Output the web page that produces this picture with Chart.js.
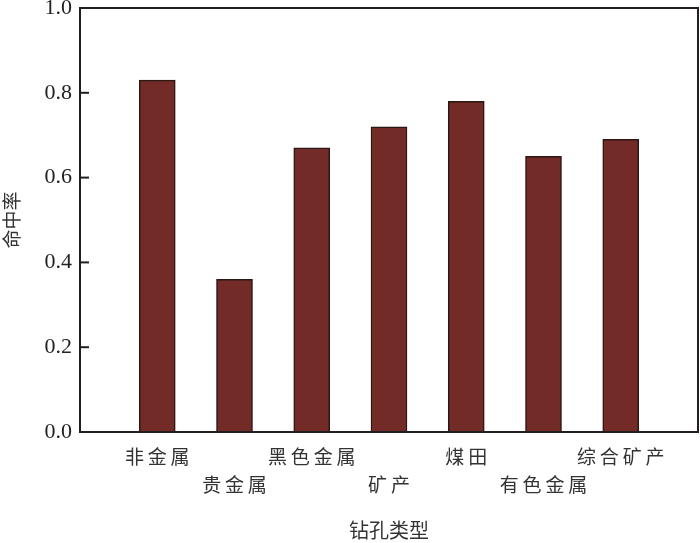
<!DOCTYPE html>
<html>
<head>
<meta charset="utf-8">
<script src="https://cdn.jsdelivr.net/npm/chart.js@4/dist/chart.umd.min.js"></script>
<style>
	body { margin: 0; background: #fff; }
	#wrap { width: 700px; height: 543px; }
</style>
</head>
<body>
<div id="wrap"><canvas id="barChart"></canvas></div>
<script>
const categories = ['非金属', '贵金属', '黑色金属', '矿产', '煤田', '有色金属', '综合矿产'];
const hitRates = [0.83, 0.36, 0.67, 0.72, 0.78, 0.65, 0.69];
const labelRows = [0, 1, 0, 1, 0, 1, 0];
const yMin = 0;
const yMax = 1.0;
const yStep = 0.2;

const serif = "'Liberation Serif', 'Noto Sans CJK SC', serif";
const cjk = "'Noto Sans CJK SC', sans-serif";

// spread the characters a little like the original typesetting
const spaced = (s) => s.split('').join('\u2009');

// empty slot on each side so bars sit at 1..7 of 0..8
const labels = ['', ...categories.map((c, i) => (labelRows[i] ? ['', spaced(c)] : spaced(c))), ''];
const values = [null, ...hitRates, null];

const frame = {
	id: 'frame',
	afterDraw(chart) {
		const { ctx, chartArea: a, scales } = chart;
		const y = scales.y;
		ctx.save();
		ctx.strokeStyle = '#231f20';
		ctx.lineWidth = 2;
		ctx.strokeRect(a.left, a.top, a.right - a.left, a.bottom - a.top);
		y.ticks.forEach((t) => {
			const py = y.getPixelForValue(t.value);
			ctx.beginPath();
			ctx.moveTo(a.left, py);
			ctx.lineTo(a.left + 9, py);
			ctx.stroke();
		});
		ctx.restore();
	},
};

const canvas = document.querySelector('#barChart');
new Chart(canvas, {
	type: 'bar',
	data: {
		labels: labels,
		datasets: [
			{
				data: values,
				backgroundColor: '#722b26',
				borderColor: '#2b1714',
				borderWidth: 1.5,
				barThickness: 36,
			},
		],
	},
	options: {
		responsive: true,
		maintainAspectRatio: false,
		animation: false,
		layout: { padding: { top: 8, right: 2, left: 0, bottom: 0 } },
		plugins: { legend: { display: false }, tooltip: { enabled: false } },
		scales: {
			x: {
				offset: false,
				grid: { display: false, drawTicks: false },
				border: { display: false },
				ticks: {
					autoSkip: false,
					maxRotation: 0,
					padding: 11,
					color: '#333',
					font: { family: cjk, size: 19, lineHeight: 1.45 },
				},
				title: {
					display: true,
					text: '钻孔类型',
					color: '#333',
					font: { family: cjk, size: 20 },
					padding: { top: 0, bottom: 1 },
				},
				afterFit: (scale) => {
					scale.height = 111;
					scale.paddingLeft = 0;
					scale.paddingRight = 0;
				},
			},
			y: {
				min: yMin,
				max: yMax,
				grid: { display: false, drawTicks: false },
				border: { display: false },
				ticks: {
					stepSize: yStep,
					padding: 8,
					color: '#222',
					font: { family: serif, size: 22 },
					callback: (v) => v.toFixed(1),
				},
				title: {
					display: true,
					text: '命中率',
					color: '#333',
					font: { family: cjk, size: 19 },
					padding: { top: 0, bottom: 3 },
				},
				afterFit: (scale) => {
					scale.width = 80;
					scale.paddingTop = 0;
					scale.paddingBottom = 0;
				},
			},
		},
	},
	plugins: [frame],
});
</script>
</body>
</html>
